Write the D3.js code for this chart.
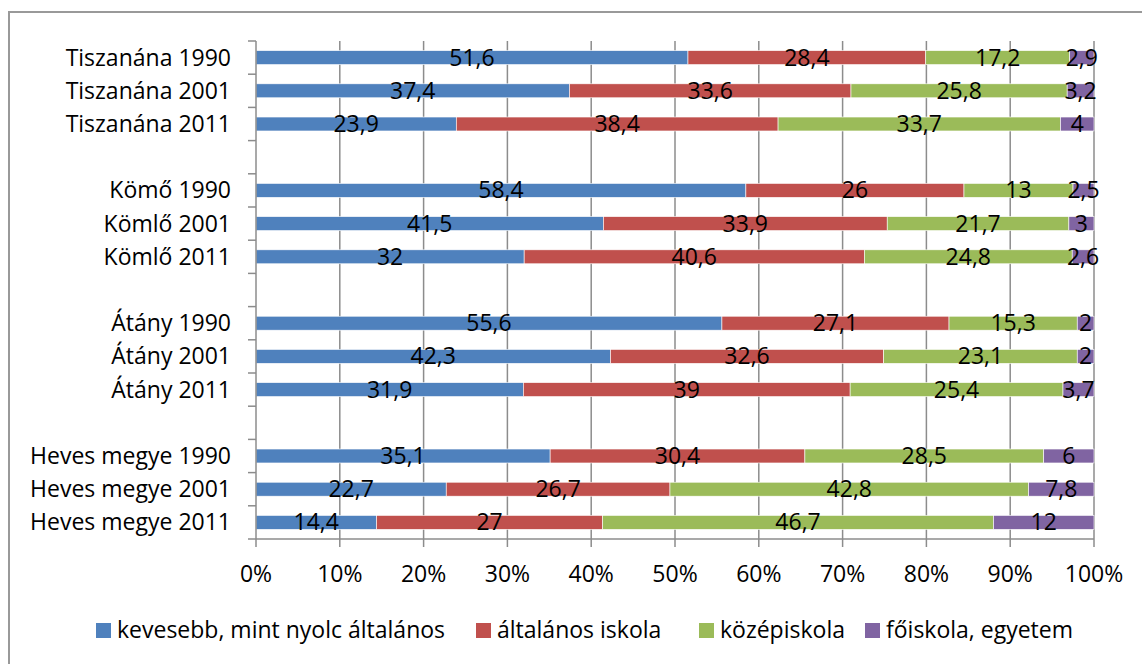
<!DOCTYPE html>
<html>
<head>
<meta charset="utf-8">
<script src="https://cdn.jsdelivr.net/npm/d3@7"></script>
<style>
  body { margin: 0; background: #fff; }
  svg { font-family: "Open Sans", "Noto Sans", sans-serif; }
</style>
</head>
<body>
<svg width="1142" height="664"></svg>
<script>
// rows, top to bottom; "" marks an empty spacer row
const categories = ["Tiszanána 1990", "Tiszanána 2001", "Tiszanána 2011", "",
  "Kömő 1990", "Kömlő 2001", "Kömlő 2011", "",
  "Átány 1990", "Átány 2001", "Átány 2011", "",
  "Heves megye 1990", "Heves megye 2001", "Heves megye 2011"];
const seriesNames = ["kevesebb, mint nyolc általános", "általános iskola", "középiskola", "főiskola, egyetem"];
const kevesebb  = [51.6, 37.4, 23.9, null, 58.4, 41.5, 32, null, 55.6, 42.3, 31.9, null, 35.1, 22.7, 14.4];
const altalanos = [28.4, 33.6, 38.4, null, 26, 33.9, 40.6, null, 27.1, 32.6, 39, null, 30.4, 26.7, 27];
const kozep     = [17.2, 25.8, 33.7, null, 13, 21.7, 24.8, null, 15.3, 23.1, 25.4, null, 28.5, 42.8, 46.7];
const foiskola  = [2.9, 3.2, 4, null, 2.5, 3, 2.6, null, 2, 2, 3.7, null, 6, 7.8, 12];
const xTicks = [0, 0.1, 0.2, 0.3, 0.4, 0.5, 0.6, 0.7, 0.8, 0.9, 1];

const colors = ["#4F81BD", "#C0504D", "#9BBB59", "#8064A2"];
const seriesVals = [kevesebb, altalanos, kozep, foiskola];

const svg = d3.select("svg");
const margin = {left: 256, right: 48, top: 41, bottom: 125};
const W = 1142, H = 664;
const FS = 23;

// outer frame (runs past the right and bottom edges of the picture)
svg.append("rect").attr("x", 9).attr("y", 12).attr("width", 1200).attr("height", 700)
  .attr("fill", "none").attr("stroke", "#999").attr("stroke-width", 2);

const x = d3.scaleLinear().domain([0, 1]).range([margin.left, W - margin.right]);
const y = d3.scaleBand().domain(d3.range(categories.length))
  .range([margin.top, H - margin.bottom]).paddingInner(0.58).paddingOuter(0.29);

// gridlines
svg.append("g").selectAll("line").data(xTicks.slice(1)).join("line")
  .attr("x1", d => x(d)).attr("x2", d => x(d))
  .attr("y1", margin.top).attr("y2", H - margin.bottom)
  .attr("stroke", "#8c8c8c").attr("stroke-width", 1.5);

// stacked data (100% normalised)
const rows = categories.map((c, i) => {
  if (!c) return null;
  const vals = seriesVals.map(s => s[i]);
  const total = d3.sum(vals);
  let acc = 0;
  return vals.map((v, k) => {
    const seg = {row: i, k: k, v: v, x0: acc / total, x1: (acc + v) / total};
    acc += v;
    return seg;
  });
}).filter(r => r);
const segs = rows.flat();

svg.append("g").selectAll("rect").data(segs).join("rect")
  .attr("x", d => x(d.x0)).attr("width", d => x(d.x1) - x(d.x0))
  .attr("y", d => y(d.row)).attr("height", y.bandwidth())
  .attr("fill", d => colors[d.k])
  .attr("stroke", "#fff").attr("stroke-width", 0.6);

const fmt = v => String(v).replace(".", ",");
svg.append("g").selectAll("text").data(segs).join("text")
  .attr("x", d => x((d.x0 + d.x1) / 2))
  .attr("y", d => y(d.row) + y.bandwidth() / 2 + 8)
  .attr("text-anchor", "middle").attr("font-size", FS).attr("fill", "#000")
  .text(d => fmt(d.v));

// y axis
const step = y.step();
const yAxis = svg.append("g");
yAxis.append("line").attr("x1", margin.left).attr("x2", margin.left)
  .attr("y1", margin.top).attr("y2", H - margin.bottom)
  .attr("stroke", "#8c8c8c").attr("stroke-width", 1.5);
yAxis.selectAll("line.tk").data(d3.range(categories.length + 1)).join("line").attr("class", "tk")
  .attr("x1", margin.left - 8).attr("x2", margin.left)
  .attr("y1", i => margin.top + i * step).attr("y2", i => margin.top + i * step)
  .attr("stroke", "#8c8c8c").attr("stroke-width", 1.5);
yAxis.selectAll("text").data(categories.map((c, i) => ({c, i})).filter(d => d.c)).join("text")
  .attr("x", 231).attr("y", d => y(d.i) + y.bandwidth() / 2 + 8)
  .attr("text-anchor", "end").attr("font-size", FS).attr("fill", "#000")
  .text(d => d.c);

// x axis
const xAxis = svg.append("g");
xAxis.append("line").attr("x1", margin.left).attr("x2", x(1))
  .attr("y1", H - margin.bottom).attr("y2", H - margin.bottom)
  .attr("stroke", "#8c8c8c").attr("stroke-width", 1.5);
xAxis.selectAll("line.tk").data(xTicks).join("line").attr("class", "tk")
  .attr("x1", d => x(d)).attr("x2", d => x(d))
  .attr("y1", H - margin.bottom).attr("y2", H - margin.bottom + 8)
  .attr("stroke", "#8c8c8c").attr("stroke-width", 1.5);
xAxis.selectAll("text").data(xTicks).join("text")
  .attr("x", d => x(d)).attr("y", 582)
  .attr("text-anchor", "middle").attr("font-size", FS).attr("fill", "#000")
  .text(d3.format(".0%"));

// legend
const legendX = [96, 476, 699, 865];
const lg = svg.append("g").selectAll("g").data(seriesNames).join("g")
  .attr("transform", (d, i) => `translate(${legendX[i]},623)`);
lg.append("rect").attr("width", 15).attr("height", 15).attr("fill", (d, i) => colors[i]);
lg.append("text").attr("x", 21).attr("y", 15).attr("font-size", FS).attr("fill", "#000").text(d => d);
</script>
</body>
</html>
